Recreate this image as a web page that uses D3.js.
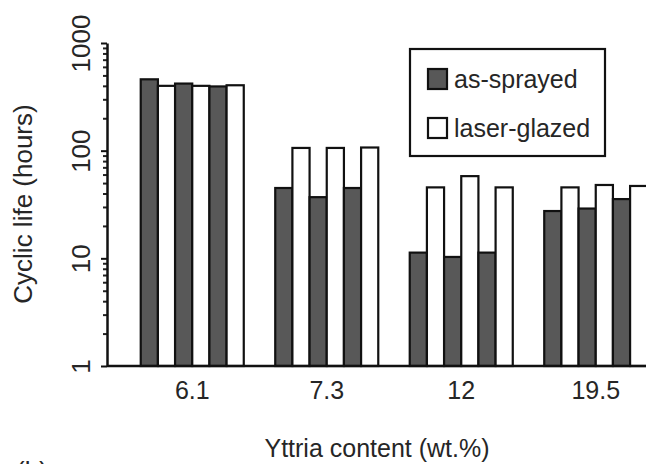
<!DOCTYPE html>
<html>
<head>
<meta charset="utf-8">
<script src="https://cdn.jsdelivr.net/npm/d3@7.9.0/dist/d3.min.js"></script>
<style>
  body { margin: 0; background: #fff; }
  svg { display: block; font-family: "Liberation Sans", Arial, sans-serif; }
  text { fill: #262626; }
</style>
</head>
<body>
<svg id="chart" width="646" height="464"></svg>
<script>
// yttria content groups
const categories = ['6.1', '7.3', '12', '19.5'];
// three samples per group, cyclic life in hours
const asSprayed = [
  [460, 420, 395],
  [45, 37, 45],
  [11.3, 10.3, 11.3],
  [27.5, 29, 35.5]
];
const laserGlazed = [
  [400, 400, 405],
  [106, 106, 107],
  [45.6, 58, 45.6],
  [45.6, 48, 47]
];
const yTicks = [1, 10, 100, 1000];
const seriesNames = ['as-sprayed', 'laser-glazed'];

const svg = d3.select('#chart');
const axisX = 107, baseY = 366, topY = 43;

const x0 = d3.scaleBand()
  .domain(categories)
  .range([125, 663])
  .paddingInner(0.234)
  .paddingOuter(0.117);

const slots = ['a0', 'l0', 'a1', 'l1', 'a2', 'l2'];
const x1 = d3.scaleBand().domain(slots).range([0, x0.bandwidth()]);

const y = d3.scaleLog().domain([1, 1000]).range([baseY, topY]);

// flatten bars
const bars = [];
categories.forEach((c, ci) => {
  for (let s = 0; s < 3; s++) {
    bars.push({ cat: c, slot: 'a' + s, value: asSprayed[ci][s], series: 0 });
    bars.push({ cat: c, slot: 'l' + s, value: laserGlazed[ci][s], series: 1 });
  }
});

const fills = ['#585858', '#ffffff'];

svg.append('g')
  .selectAll('rect')
  .data(bars)
  .join('rect')
  .attr('x', d => x0(d.cat) + x1(d.slot))
  .attr('y', d => y(d.value))
  .attr('width', x1.bandwidth())
  .attr('height', d => baseY - y(d.value))
  .attr('fill', d => fills[d.series])
  .attr('stroke', '#111')
  .attr('stroke-width', 2.2);

// minor ticks
const minor = [];
for (let dec = 1; dec < 1000; dec *= 10) {
  for (let k = 2; k <= 9; k++) minor.push(dec * k);
}
svg.append('g')
  .attr('transform', `translate(${axisX},0)`)
  .call(d3.axisLeft(y).tickValues(minor).tickSize(4).tickFormat(''))
  .call(g => g.select('.domain').remove())
  .call(g => g.selectAll('line').attr('stroke', '#222').attr('stroke-width', 2));

// major y axis
svg.append('g')
  .attr('transform', `translate(${axisX},0)`)
  .call(d3.axisLeft(y).tickValues(yTicks).tickSize(6).tickSizeOuter(0).tickFormat(d3.format('d')))
  .call(g => g.select('.domain').attr('stroke', '#111').attr('stroke-width', 2.5))
  .call(g => g.selectAll('line').attr('stroke', '#111').attr('stroke-width', 2))
  .call(g => g.selectAll('text')
    .attr('x', null).attr('dy', null)
    .attr('transform', 'translate(-17,0) rotate(-90)')
    .attr('text-anchor', 'middle')
    .style('font-size', '26px')
    .style('font-family', '"Liberation Sans", Arial, sans-serif')
    .attr('fill', '#262626'));

// x axis
svg.append('g')
  .attr('transform', `translate(0,${baseY})`)
  .call(d3.axisBottom(x0).tickSize(0).tickPadding(15))
  .call(g => g.select('.domain').remove())
  .call(g => g.selectAll('text')
    .style('font-size', '25px')
    .style('font-family', '"Liberation Sans", Arial, sans-serif')
    .attr('fill', '#262626'));

svg.append('line')
  .attr('x1', axisX).attr('x2', 646)
  .attr('y1', baseY).attr('y2', baseY)
  .attr('stroke', '#111').attr('stroke-width', 2.5);

// axis titles
svg.append('text')
  .attr('transform', 'translate(32,204) rotate(-90)')
  .attr('text-anchor', 'middle')
  .style('font-size', '26px')
  .text('Cyclic life (hours)');

svg.append('text')
  .attr('x', 377).attr('y', 457)
  .attr('text-anchor', 'middle')
  .style('font-size', '25px')
  .text('Yttria content (wt.%)');

svg.append('text')
  .attr('x', 16).attr('y', 480)
  .style('font-size', '26px')
  .text('(b)');

// legend
const legend = svg.append('g');
legend.append('rect')
  .attr('x', 410).attr('y', 49).attr('width', 195).attr('height', 107)
  .attr('fill', '#fff').attr('stroke', '#111').attr('stroke-width', 2.2);

seriesNames.forEach((name, i) => {
  const ly = 69 + i * 49;
  legend.append('rect')
    .attr('x', 428).attr('y', ly).attr('width', 19).attr('height', 20)
    .attr('fill', fills[i]).attr('stroke', '#111').attr('stroke-width', 2.2);
  legend.append('text')
    .attr('x', 454).attr('y', ly + 19)
    .style('font-size', '25px')
    .text(name);
});
</script>
</body>
</html>
